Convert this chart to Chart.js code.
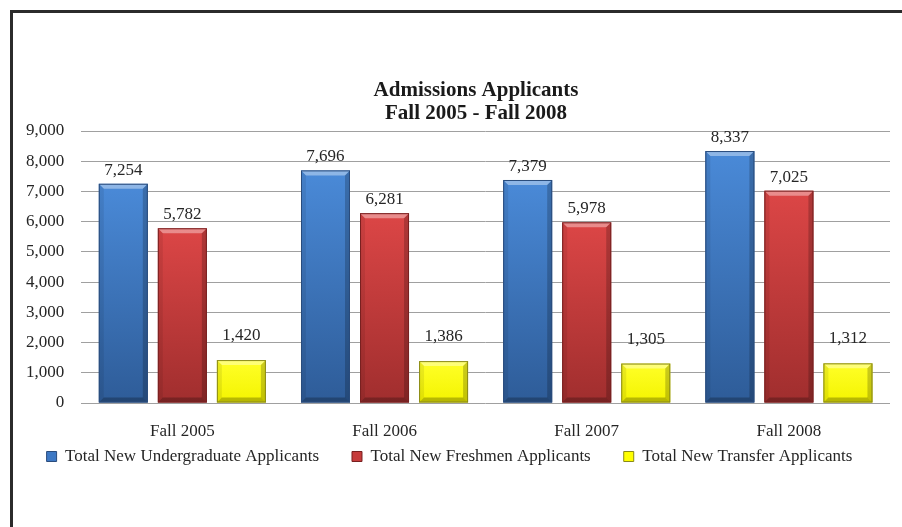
<!DOCTYPE html>
<html><head><meta charset="utf-8">
<script src="https://cdn.jsdelivr.net/npm/chart.js@4/dist/chart.umd.min.js"></script>
<style>html,body{margin:0;padding:0;background:#fff}#wrap{width:902px;height:527px;position:relative}</style>
</head><body><div id="wrap"><canvas id="c" width="902" height="527"></canvas></div>
<script>
const categories = ['Fall 2005', 'Fall 2006', 'Fall 2007', 'Fall 2008'];
const undergraduate = [7254, 7696, 7379, 8337];
const freshmen = [5782, 6281, 5978, 7025];
const transfer = [1420, 1386, 1305, 1312];
const seriesNames = ['Total New Undergraduate Applicants', 'Total New Freshmen Applicants', 'Total New Transfer Applicants'];
const yTicks = [0, 1000, 2000, 3000, 4000, 5000, 6000, 7000, 8000, 9000];
const titleLines = ['Admissions Applicants', 'Fall 2005 - Fall 2008'];

const SERIF = "'Liberation Serif', 'Times New Roman', serif";
const TXT = '#262626';
const shades = [
  {fill:'#3d78c4', top:'#4a8ad8', bottom:'#2e5c98', edge:'#2a4c7c'},
  {fill:'#c63c3c', top:'#dc4646', bottom:'#a02e2e', edge:'#782020'},
  {fill:'#ffff00', top:'#ffff28', bottom:'#f4f400', edge:'#8a8a18'}
];
const labelGap = [9, 9, 20];
const fmt = v => v.toLocaleString('en-US');

const framePlugin = {
  id: 'frame',
  beforeDraw(chart) {
    const ctx = chart.ctx;
    ctx.save();
    ctx.fillStyle = '#fff';
    ctx.fillRect(0, 0, chart.width, chart.height);
    ctx.fillStyle = '#2b2b2b';
    ctx.fillRect(10, 10, chart.width - 10, 3);
    ctx.fillRect(10, 10, 3, chart.height - 10);
    ctx.restore();
  },
  afterDraw(chart) {
    const ctx = chart.ctx;
    ctx.save();
    ctx.fillStyle = '#1a1a1a';
    ctx.font = "bold 21px " + SERIF;
    ctx.textAlign = 'center';
    ctx.textBaseline = 'alphabetic';
    ctx.fillText(titleLines[0], 476, 96);
    ctx.fillText(titleLines[1], 476, 119);
    ctx.restore();
  }
};

function poly(ctx, pts, color) {
  ctx.beginPath();
  ctx.moveTo(pts[0][0], pts[0][1]);
  for (let i = 1; i < pts.length; i++) ctx.lineTo(pts[i][0], pts[i][1]);
  ctx.closePath();
  ctx.fillStyle = color;
  ctx.fill();
}

const bevelPlugin = {
  id: 'bevel',
  afterDatasetsDraw(chart) {
    const ctx = chart.ctx;
    ctx.save();
    chart.data.datasets.forEach((ds, di) => {
      const meta = chart.getDatasetMeta(di);
      const s = shades[di];
      meta.data.forEach((el, i) => {
        const l = el.x - el.width / 2, r = el.x + el.width / 2, t = el.y, b = el.base;
        const bv = Math.min(5, (b - t) / 2);
        const g = ctx.createLinearGradient(0, t, 0, b);
        g.addColorStop(0, s.top); g.addColorStop(1, s.bottom);
        ctx.fillStyle = g;
        ctx.fillRect(l, t, r - l, b - t);
        poly(ctx, [[l, t], [r, t], [r - bv, t + bv], [l + bv, t + bv]], 'rgba(255,255,255,0.38)');
        poly(ctx, [[l, t], [l + bv, t + bv], [l + bv, b - bv], [l, b]], 'rgba(0,0,0,0.08)');
        poly(ctx, [[r, t], [r, b], [r - bv, b - bv], [r - bv, t + bv]], 'rgba(0,0,0,0.2)');
        poly(ctx, [[l, b], [r, b], [r - bv, b - bv], [l + bv, b - bv]], 'rgba(0,0,0,0.25)');
        ctx.strokeStyle = s.edge;
        ctx.lineWidth = 1;
        ctx.strokeRect(l + 0.5, t + 0.5, r - l - 1, b - t - 1);
        ctx.fillStyle = TXT;
        ctx.font = "17px " + SERIF;
        ctx.textAlign = 'center';
        ctx.textBaseline = 'alphabetic';
        ctx.fillText(fmt(ds.data[i]), el.x, t - labelGap[di]);
      });
    });
    ctx.restore();
  }
};

new Chart(document.getElementById('c'), {
  type: 'bar',
  data: {
    labels: categories,
    datasets: [
      {label: seriesNames[0], data: undergraduate, backgroundColor: shades[0].fill, borderColor: shades[0].edge, borderWidth: 1},
      {label: seriesNames[1], data: freshmen, backgroundColor: shades[1].fill, borderColor: shades[1].edge, borderWidth: 1},
      {label: seriesNames[2], data: transfer, backgroundColor: shades[2].fill, borderColor: shades[2].edge, borderWidth: 1}
    ]
  },
  options: {
    responsive: false,
    animation: false,
    devicePixelRatio: 1,
    categoryPercentage: 0.876,
    barPercentage: 0.83,
    layout: {padding: {left: 9, right: 12, top: 131, bottom: 52}},
    plugins: {
      title: {display: false},
      tooltip: {enabled: false},
      legend: {
        position: 'bottom',
        labels: {
          font: {family: SERIF, size: 17},
          color: TXT,
          boxWidth: 10,
          boxHeight: 10,
          padding: 33
        }
      }
    },
    scales: {
      x: {
        grid: {display: false, drawTicks: false},
        border: {display: false},
        ticks: {font: {family: SERIF, size: 17}, color: TXT, padding: 18},
        afterFit(axis) {
          axis.height = 12;
          axis._computeLabelArea = () => undefined;
        }
      },
      y: {
        min: 0, max: 9000,
        afterBuildTicks(axis) { axis.ticks = yTicks.map(v => ({value: v})); },
        grid: {color: '#a0a0a0', lineWidth: 1, drawTicks: false},
        border: {display: false},
        ticks: {font: {family: SERIF, size: 17}, color: TXT, padding: 17, callback: v => fmt(v)}
      }
    }
  },
  plugins: [framePlugin, bevelPlugin]
});
</script>
</body></html>
